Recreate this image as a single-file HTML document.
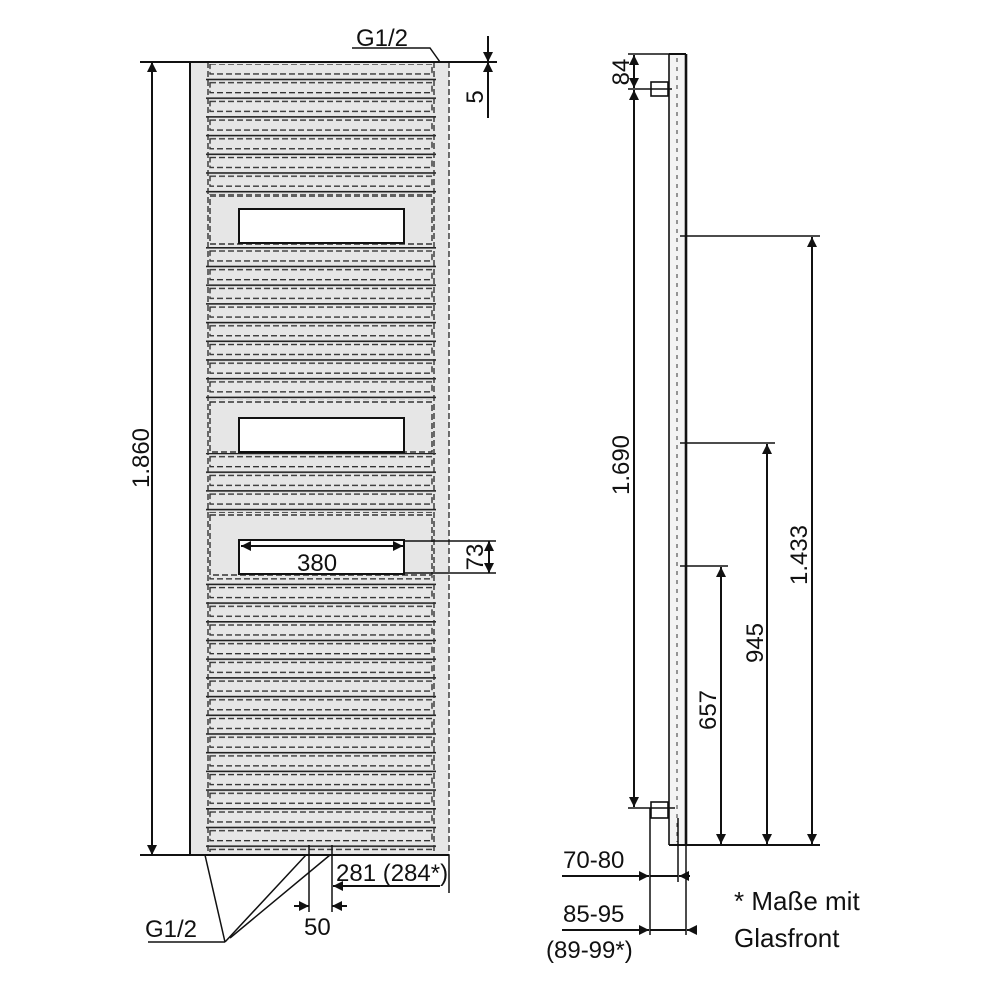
<!DOCTYPE html>
<html><head><meta charset="utf-8"><style>
html,body{margin:0;padding:0;background:#fff}
svg{display:block}
text{font-family:"Liberation Sans",sans-serif;fill:#111}
</style></head><body>
<svg width="981" height="981" viewBox="0 0 981 981" xmlns="http://www.w3.org/2000/svg">
<defs>
<marker id="a" viewBox="0 0 10 10" refX="10" refY="5" markerWidth="12" markerHeight="10" markerUnits="userSpaceOnUse" orient="auto-start-reverse"><path d="M0,0 L10,5 L0,10 z" fill="#111"/></marker>
<pattern id="bars" patternUnits="userSpaceOnUse" x="0" y="60" width="981" height="18.7">
<line x1="206" y1="0.8" x2="436" y2="0.8" stroke="#222" stroke-width="1.6"/>
<rect x="210" y="4" width="222" height="10" fill="none" stroke="#333" stroke-width="1.4" stroke-dasharray="6,3"/>
</pattern>
</defs>
<rect x="190" y="62" width="259" height="793" fill="#e6e6e6"/>
<rect x="190" y="64" width="259" height="131" fill="url(#bars)"/>
<rect x="190" y="246" width="259" height="154" fill="url(#bars)"/>
<rect x="190" y="453" width="259" height="60" fill="url(#bars)"/>
<rect x="190" y="576" width="259" height="276" fill="url(#bars)"/>
<g fill="none" stroke="#333" stroke-width="1.4" stroke-dasharray="6,3">
<rect x="210" y="196" width="222" height="48"/>
<rect x="210" y="402" width="222" height="50"/>
<rect x="210" y="515" width="222" height="60"/>
<line x1="208" y1="62" x2="208" y2="855"/>
<line x1="434" y1="62" x2="434" y2="855"/>
<line x1="449" y1="62" x2="449" y2="855"/>
</g>
<g fill="#fff" stroke="#111" stroke-width="2">
<rect x="239" y="209" width="165" height="34"/>
<rect x="239" y="418" width="165" height="34"/>
<rect x="239" y="540" width="165" height="34"/>
</g>
<g stroke="#111" stroke-width="2" fill="none">
<line x1="190" y1="62" x2="190" y2="855"/>
<line x1="140" y1="62" x2="497" y2="62"/>
<line x1="140" y1="855" x2="449" y2="855"/>
<line x1="152" y1="62" x2="152" y2="855" marker-start="url(#a)" marker-end="url(#a)"/>
<line x1="488" y1="36" x2="488" y2="62" marker-end="url(#a)"/>
<line x1="488" y1="118" x2="488" y2="62" marker-end="url(#a)"/>
<polyline points="352,48 430,48 440,62" stroke-width="1.5"/>
<line x1="241" y1="546" x2="403" y2="546" marker-start="url(#a)" marker-end="url(#a)"/>
<line x1="404" y1="541" x2="496" y2="541" stroke-width="1.5"/>
<line x1="404" y1="573" x2="496" y2="573" stroke-width="1.5"/>
<line x1="489" y1="541" x2="489" y2="573" marker-start="url(#a)" marker-end="url(#a)"/>
<line x1="309" y1="845" x2="309" y2="912" stroke-width="1.5"/>
<line x1="332" y1="845" x2="332" y2="912" stroke-width="1.5"/>
<line x1="294" y1="906" x2="309" y2="906" marker-end="url(#a)"/>
<line x1="347" y1="906" x2="332" y2="906" marker-end="url(#a)"/>
<line x1="440" y1="886" x2="333" y2="886" marker-end="url(#a)"/>
<line x1="449" y1="855" x2="449" y2="893" stroke-width="1.5"/>
<line x1="148" y1="942" x2="225" y2="942" stroke-width="1.5"/>
<line x1="225" y1="942" x2="205" y2="855" stroke-width="1.5"/>
<line x1="225" y1="942" x2="306" y2="855" stroke-width="1.5"/>
<line x1="230" y1="938" x2="330" y2="855" stroke-width="1.5"/>
</g>
<text x="356" y="46" font-size="24">G1/2</text>
<text x="145" y="937" font-size="24">G1/2</text>
<text x="297" y="571" font-size="24">380</text>
<text x="304" y="935" font-size="24">50</text>
<text x="336" y="881" font-size="24">281 (284*)</text>
<text transform="translate(149,458) rotate(-90)" font-size="24" text-anchor="middle">1.860</text>
<text transform="translate(483,97) rotate(-90)" font-size="24" text-anchor="middle">5</text>
<text transform="translate(483,557) rotate(-90)" font-size="24" text-anchor="middle">73</text>

<rect x="669" y="54" width="17" height="791" fill="#f4f4f4"/>
<line x1="677" y1="58" x2="677" y2="842" stroke="#555" stroke-width="1.2" stroke-dasharray="4,5"/>
<g stroke="#111" stroke-width="2" fill="none">
<line x1="669" y1="54" x2="669" y2="845" stroke-width="1.6"/>
<line x1="686" y1="54" x2="686" y2="845" stroke-width="2.6"/>
<line x1="669" y1="54" x2="686" y2="54"/>
<line x1="669" y1="845" x2="820" y2="845"/>
<rect x="651" y="82" width="17" height="14" stroke-width="1.6"/>
<rect x="651" y="802" width="17" height="16" stroke-width="1.6"/>
<line x1="628" y1="54" x2="669" y2="54" stroke-width="1.5"/>
<line x1="628" y1="89" x2="672" y2="89" stroke-width="1.5"/>
<line x1="628" y1="808" x2="675" y2="808" stroke-width="1.5"/>
<line x1="634" y1="55" x2="634" y2="88" marker-start="url(#a)" marker-end="url(#a)"/>
<line x1="634" y1="90" x2="634" y2="807" marker-start="url(#a)" marker-end="url(#a)"/>
<line x1="680" y1="236" x2="820" y2="236" stroke-width="1.5"/>
<line x1="680" y1="443" x2="775" y2="443" stroke-width="1.5"/>
<line x1="680" y1="566" x2="728" y2="566" stroke-width="1.5"/>
<line x1="812" y1="237" x2="812" y2="844" marker-start="url(#a)" marker-end="url(#a)"/>
<line x1="767" y1="444" x2="767" y2="844" marker-start="url(#a)" marker-end="url(#a)"/>
<line x1="721" y1="567" x2="721" y2="844" marker-start="url(#a)" marker-end="url(#a)"/>
<line x1="650" y1="808" x2="650" y2="935" stroke-width="1.5"/>
<line x1="678" y1="818" x2="678" y2="882" stroke-width="1.5"/>
<line x1="686" y1="845" x2="686" y2="935" stroke-width="1.5"/>
<line x1="562" y1="876" x2="649" y2="876" marker-end="url(#a)"/>
<line x1="650" y1="876" x2="678" y2="876"/>
<line x1="690" y1="876" x2="679" y2="876" marker-end="url(#a)"/>
<line x1="562" y1="930" x2="649" y2="930" marker-end="url(#a)"/>
<line x1="650" y1="930" x2="686" y2="930"/>
<line x1="697" y1="930" x2="687" y2="930" marker-end="url(#a)"/>
</g>
<text transform="translate(629,72) rotate(-90)" font-size="24" text-anchor="middle">84</text>
<text transform="translate(629,465) rotate(-90)" font-size="24" text-anchor="middle">1.690</text>
<text transform="translate(807,555) rotate(-90)" font-size="24" text-anchor="middle">1.433</text>
<text transform="translate(763,643) rotate(-90)" font-size="24" text-anchor="middle">945</text>
<text transform="translate(716,710) rotate(-90)" font-size="24" text-anchor="middle">657</text>
<text x="563" y="868" font-size="24">70-80</text>
<text x="563" y="922" font-size="24">85-95</text>
<text x="546" y="958" font-size="24">(89-99*)</text>
<text x="734" y="910" font-size="26">* Maße mit</text>
<text x="734" y="947" font-size="26">Glasfront</text>
</svg>
</body></html>
